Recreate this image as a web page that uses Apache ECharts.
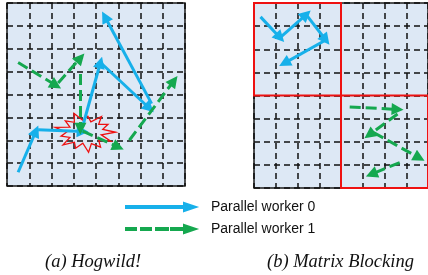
<!DOCTYPE html>
<html>
<head>
<meta charset="utf-8">
<script src="https://cdn.jsdelivr.net/npm/echarts@6/dist/echarts.min.js"></script>
<style>
  html, body { margin: 0; padding: 0; background: #fff; }
  #chart { width: 428px; height: 275px; }
</style>
</head>
<body>
<div id="chart"></div>
<script>
// each arrow: [x1, y1, x2, y2] in cell units, 8x8 cells per matrix
const hogwildWorker0 = [
  [0.5, 0.6, 1.3, 2.4],
  [1.4, 2.46, 3.4, 2.38],
  [3.4, 2.6, 4.2, 5.4],
  [4.2, 5.4, 6.4, 3.4],
  [6.5, 3.6, 4.4, 7.4]
];
const hogwildWorker1 = [
  [0.5, 5.4, 2.2, 4.4],
  [2.3, 4.5, 3.3, 5.6],
  [3.3, 4.9, 3.3, 2.5],
  [3.4, 2.4, 5.0, 1.7],
  [5.5, 2.0, 7.5, 4.6]
];
const blockingWorker0 = [
  [0.3, 7.4, 1.2, 6.5],
  [1.2, 6.5, 2.4, 7.5],
  [2.4, 7.5, 3.3, 6.4],
  [3.3, 6.4, 1.4, 5.4]
];
const blockingWorker1 = [
  [4.4, 3.5, 6.6, 3.4],
  [6.6, 3.2, 5.3, 2.3],
  [5.5, 2.4, 7.6, 1.3],
  [6.7, 1.1, 5.4, 0.6]
];
// matrix blocks owned by the workers: [x0, y0, x1, y1]
const blocks = [
  [0, 4, 4, 8],
  [4, 0, 8, 4]
];
// conflict "explosion": centre in cell units, spike radii going round
const clashCentre = [3.5, 2.35];
const clashRadii = [1.0, 0.6, 0.85, 0.6, 0.95, 0.55, 0.8, 0.6, 1.0, 0.6, 0.85, 0.55, 1.0, 0.6,
                    0.8, 0.55, 0.95, 0.6, 0.85, 0.55, 1.0, 0.6, 0.9, 0.6, 0.95, 0.55];
const legendNames = ['Parallel worker 0', 'Parallel worker 1'];
const captions = ['(a) Hogwild!', '(b) Matrix Blocking'];

const BLUE = '#17b0ea';
const GREEN = '#15a84f';

const chart = echarts.init(document.getElementById('chart'));

const axisBase = {
  type: 'value', min: 0, max: 8, interval: 1,
  axisLine: { show: false }, axisTick: { show: false }, axisLabel: { show: false },
  splitLine: { show: true, lineStyle: { color: '#111', width: 1.5, type: [6, 4] } }
};

const captionStyle = { fontFamily: 'Liberation Serif', fontStyle: 'italic', fontWeight: 'normal', fontSize: 18.5, color: '#111' };

function arrows(name, segs, idx, color, dashed) {
  return {
    name: name,
    type: 'lines',
    coordinateSystem: 'cartesian2d',
    xAxisIndex: idx, yAxisIndex: idx,
    symbol: ['none', 'triangle'],
    symbolSize: [11, 12],
    z: 5,
    lineStyle: { color: color, width: 3, opacity: 1, type: dashed ? [11, 5] : 'solid' },
    data: segs.map(s => ({ coords: [[s[0], s[1]], [s[2], s[3]]] }))
  };
}

chart.setOption({
  animation: false,
  grid: [
    { left: 7, top: 3, width: 178, height: 183, show: true, backgroundColor: '#dde8f5', borderColor: '#1a1a1a', borderWidth: 1.5 },
    { left: 254, top: 3, width: 176, height: 185, show: true, backgroundColor: '#dde8f5', borderColor: '#1a1a1a', borderWidth: 1.5 }
  ],
  xAxis: [Object.assign({ gridIndex: 0 }, axisBase), Object.assign({ gridIndex: 1 }, axisBase)],
  yAxis: [Object.assign({ gridIndex: 0 }, axisBase), Object.assign({ gridIndex: 1 }, axisBase)],
  title: [
    { text: captions[0], left: 45, top: 253, padding: 0, textStyle: captionStyle },
    { text: captions[1], left: 267, top: 253, padding: 0, textStyle: captionStyle }
  ],
  legend: {
    orient: 'vertical', left: 125, top: 200, padding: 0, itemWidth: 70, itemHeight: 8, itemGap: 8,
    selectedMode: false,
    textStyle: { fontFamily: 'Liberation Sans', fontSize: 14, color: '#111', padding: [0, 0, 0, 10] },
    data: [
      { name: legendNames[0], icon: 'path://M0,3H59V5H0Z M58,0L70,4L58,8Z', itemStyle: { color: BLUE } },
      { name: legendNames[1], icon: 'path://M0,3H10V5H0Z M15,3H25V5H15Z M30,3H42V5H30Z M45,3H57V5H45Z M58,0L70,4L58,8Z', itemStyle: { color: GREEN } }
    ]
  },
  series: [
    {
      type: 'custom', xAxisIndex: 0, yAxisIndex: 0, z: 3, silent: true,
      data: [clashCentre],
      renderItem: function (params, api) {
        const c = api.coord([api.value(0), api.value(1)]);
        const unit = api.size([1, 1]);
        const pts = clashRadii.map((r, i) => {
          const a = i / clashRadii.length * Math.PI * 2;
          return [c[0] + Math.cos(a) * r * unit[0] * 1.38, c[1] - Math.sin(a) * r * unit[1] * 0.88];
        });
        return { type: 'polygon', shape: { points: pts }, style: { fill: 'none', stroke: '#ee1111', lineWidth: 1.3 } };
      }
    },
    {
      type: 'custom', xAxisIndex: 1, yAxisIndex: 1, z: 4, silent: true,
      data: blocks,
      renderItem: function (params, api) {
        const p0 = api.coord([api.value(0), api.value(3)]);
        const p1 = api.coord([api.value(2), api.value(1)]);
        return { type: 'rect', shape: { x: p0[0], y: p0[1], width: p1[0] - p0[0], height: p1[1] - p0[1] },
          style: { fill: 'none', stroke: '#ee1111', lineWidth: 2 } };
      }
    },
    arrows(legendNames[0], hogwildWorker0, 0, BLUE, false),
    arrows(legendNames[1], hogwildWorker1, 0, GREEN, true),
    arrows(legendNames[0], blockingWorker0, 1, BLUE, false),
    arrows(legendNames[1], blockingWorker1, 1, GREEN, true)
  ]
});
</script>
</body>
</html>
